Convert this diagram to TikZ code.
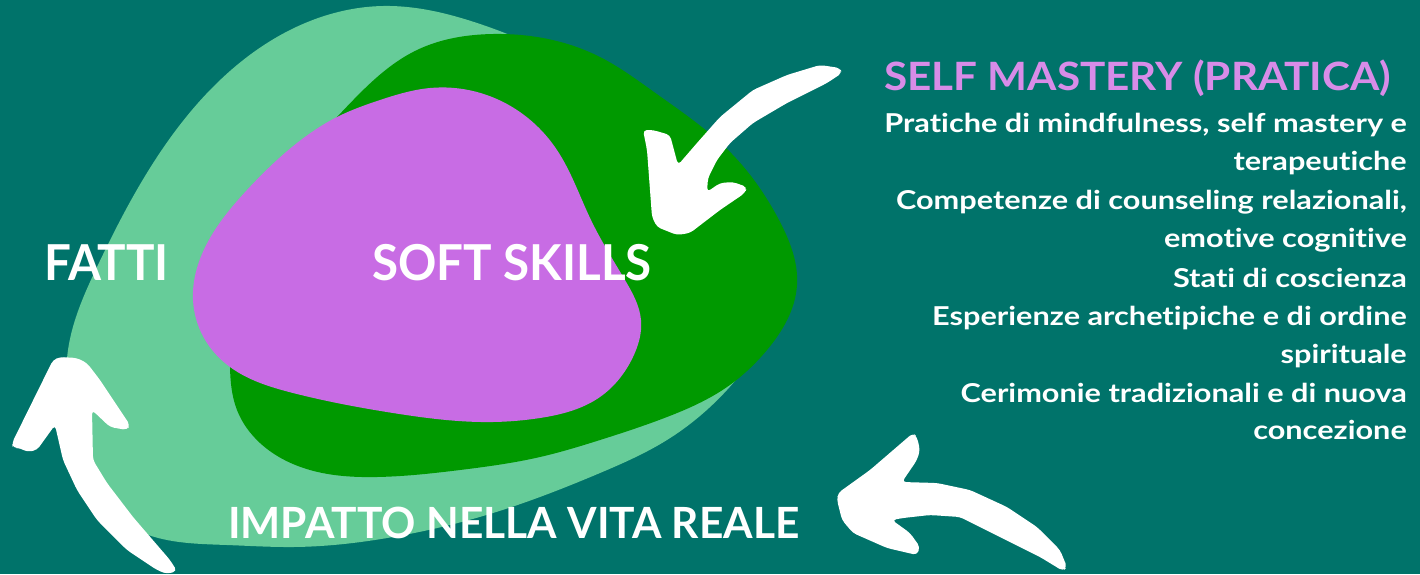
\documentclass[tikz,border=0pt]{standalone}
\usepackage{fontspec}
\usetikzlibrary{hobby}
\setmainfont{Lato}[Ligatures={NoCommon}]
\definecolor{bg}{RGB}{0,115,106}
\definecolor{lgreen}{RGB}{102,204,153}
\definecolor{dgreen}{RGB}{0,153,0}
\definecolor{purp}{RGB}{200,108,228}
\definecolor{tpurp}{RGB}{216,140,232}
\newcommand{\bodyline}[1]{\scalebox{1.18}[1]{#1}}
\tikzset{
  lbl/.style={text=white, font=\bfseries, inner sep=0pt},
  body/.style={text=white, font=\bfseries\fontsize{26}{30}\selectfont, inner sep=0pt, anchor=base east},
  arrowfill/.style={fill=white, rounded corners=4pt},
  blob/.style={use Hobby shortcut, closed=true},
}
\begin{document}
\begin{tikzpicture}[x=1pt,y=-1pt]
\fill[bg] (0,0) rectangle (1420,574);
\useasboundingbox (0,0) rectangle (1420,574);
% light green blob
\fill[lgreen, blob] (383,6) .. (483,25) .. (560,60) .. (690,180) .. (765,320) .. (727,390) .. (667,440)
 .. (600,473) .. (493,513) .. (393,537) .. (293,547) .. (227,545) .. (143,533) .. (95,495)
 .. (72,430) .. (68,350) .. (97,267) .. (150,168) .. (215,85) .. (290,30);
% dark green blob
\fill[dgreen, blob] (493,34) .. (600,57) .. (654,92) .. (732,154) .. (779,220) .. (797,285)
 .. (767,350) .. (727,387) .. (667,417) .. (600,440) .. (540,457) .. (460,470) .. (377,477)
 .. (310,470) .. (260,443) .. (237,410) .. (230,367) .. (240,280) .. (290,170) .. (337,117) .. (417,50);
% purple blob
\fill[purp, blob] (430,88) .. (517,110) .. (557,150) .. (591,220) .. (625,280) .. (641,320)
 .. (633,357) .. (600,397) .. (540,418) .. (493,422) .. (393,413) .. (293,393) .. (230,367)
 .. (207,343) .. (193,300) .. (213,233) .. (247,190) .. (297,143) .. (337,117) .. (380,100);
% arrows
\fill[arrowfill] (840,68) -- (820,65) -- (787,75) -- (753,90) -- (720,117) -- (697,143) -- (678,165)
 -- (670,135) -- (653,130) -- (643,130) -- (647,150) -- (652,217) -- (657,227) -- (677,235)
 -- (690,233) -- (720,210) -- (745,193) -- (747,187) -- (733,182) -- (720,183) -- (707,192)
 -- (708,178) -- (717,160) -- (730,143) -- (753,123) -- (787,103) -- (827,83) -- (842,73) -- cycle;
\fill[arrowfill] (60,357) -- (53,360) -- (12,443) -- (13,448) -- (20,448) -- (27,452) -- (37,450)
 -- (55,425) -- (63,460) -- (77,490) -- (97,520) -- (127,550) -- (157,570) -- (167,574) -- (177,571)
 -- (170,560) -- (133,517) -- (107,483) -- (93,460) -- (92,410) -- (110,427) -- (127,430)
 -- (130,425) -- (100,380) -- (87,363) -- (77,358) -- cycle;
\fill[arrowfill] (838,493) -- (870,470) -- (913,433) -- (917,437) -- (920,450) -- (917,460) -- (902,482)
 -- (937,483) -- (970,490) -- (1007,507) -- (1037,527) -- (1060,550) -- (1067,567) -- (1063,571)
 -- (1040,557) -- (1000,537) -- (960,517) -- (930,515) -- (903,518) -- (892,520) -- (910,533)
 -- (920,547) -- (917,555) -- (887,548) -- (853,533) -- (842,520) -- (837,500) -- cycle;
% labels
\node[lbl, anchor=base west, font=\bfseries\fontsize{49.5}{55}\selectfont] (soft) at (372,280) {\scalebox{0.96}[1]{SOFT SKILLS}};
\node[lbl, anchor=base west, font=\bfseries\fontsize{49.5}{55}\selectfont] (fatti) at (44,280) {\scalebox{0.96}[1]{FATTI}};
\node[lbl, anchor=base west, font=\bfseries\fontsize{43}{48}\selectfont] (imp) at (228,538) {\scalebox{0.988}[1]{IMPATTO NELLA VITA REALE}};
\node[lbl, text=tpurp, anchor=base west, font=\bfseries\fontsize{39}{44}\selectfont] (title) at (884,90) {\scalebox{1.083}[1]{SELF MASTERY (PRATICA)}};
\node[body] (b1) at (1407,132.7) {\bodyline{Pratiche di mindfulness, self mastery e}};
\node[body] (b2) at (1407,170) {\bodyline{terapeutiche}};
\node[body] (b3) at (1407,209) {\bodyline{Competenze di counseling relazionali,}};
\node[body] (b4) at (1407,247) {\bodyline{emotive cognitive}};
\node[body] (b5) at (1407,287) {\bodyline{Stati di coscienza}};
\node[body] (b6) at (1407,325) {\bodyline{Esperienze archetipiche e di ordine}};
\node[body] (b7) at (1407,363) {\bodyline{spirituale}};
\node[body] (b8) at (1407,402) {\bodyline{Cerimonie tradizionali e di nuova}};
\node[body] (b9) at (1407,439) {\bodyline{concezione}};
\end{tikzpicture}
\end{document}
